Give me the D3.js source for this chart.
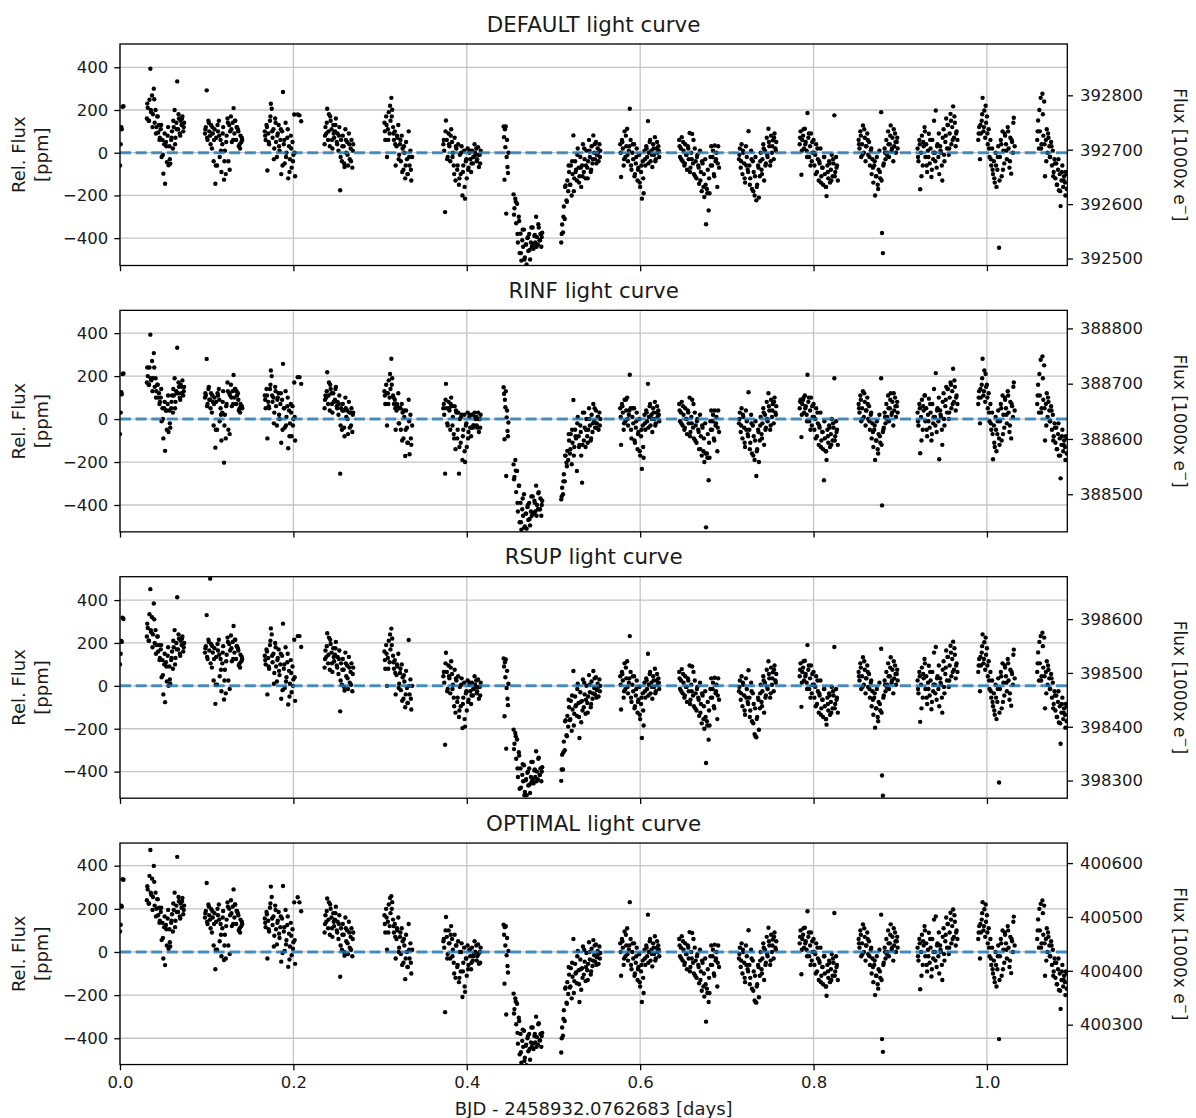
<!DOCTYPE html>
<html>
<head>
<meta charset="utf-8">
<script src="https://cdn.jsdelivr.net/npm/d3@7"></script>
<style>
  body { margin: 0; background: #fff; }
  svg { display: block; }
</style>
</head>
<body>
<script>
// ---- Light-curve data (time in days from BJD 2458932.0762683, flux in ppm) ----
// One entry per spacecraft visit (orbit); the four photometric apertures share the time stamps.
const visitTimes = [
  [0,.0008,.0015,.002,.003,.004],
  [.031,.032,.033,.034,.035,.036,.037,.038,.039,.040,.041,.042,.043,.044,.045,.046,.047,.048,.049,.050,.051,.052,.053,.054,.055,.056,.057,.058,.059,.060,.061,.062,.063,.064,.065,.066,.067,.068,.069,.070,.071,.072,.073,.074],
  [.098,.099,.100,.101,.102,.103,.104,.105,.106,.107,.108,.109,.110,.111,.112,.113,.114,.115,.116,.117,.118,.119,.120,.121,.122,.123,.124,.125,.126,.127,.128,.129,.130,.131,.132,.133,.134,.135,.136,.137,.138,.139,.140,.141],
  [.167,.168,.169,.170,.171,.172,.173,.174,.175,.176,.177,.178,.179,.180,.181,.182,.183,.184,.185,.186,.187,.188,.189,.190,.191,.192,.193,.194,.195,.196,.197,.198,.199,.200,.201,.202,.205,.207,.209],
  [.236,.237,.238,.239,.240,.241,.242,.243,.244,.245,.246,.247,.248,.249,.250,.251,.252,.253,.254,.255,.256,.257,.258,.259,.260,.261,.262,.263,.264,.265,.266,.267,.268,.269],
  [.305,.306,.307,.308,.309,.310,.311,.312,.313,.314,.315,.316,.317,.318,.319,.320,.321,.322,.323,.324,.325,.326,.327,.328,.329,.330,.331,.332,.333,.334,.335,.336,.337],
  [.373,.374,.375,.376,.377,.378,.379,.380,.381,.382,.383,.384,.385,.386,.387,.388,.389,.390,.391,.392,.393,.394,.395,.396,.397,.398,.399,.400,.401,.402,.403,.404,.405,.406,.407,.408,.409,.410,.411,.412,.413,.414,.415,.416],
  [.4425,.443,.4435,.444,.4445,.445,.4455,.446,.4465,.447,.4475,.448,.454,.455,.456,.457,.458,.459,.460,.461,.462,.463,.464,.465,.466,.467,.468,.469,.470,.471,.472,.473,.474,.475,.476,.477,.478,.479,.480,.481,.482,.483,.484,.485,.486,.487],
  [.509,.510,.511,.512,.513,.514,.515,.516,.517,.518,.519,.520,.521,.522,.523,.524,.525,.526,.527,.528,.529,.530,.531,.532,.533,.534,.535,.536,.537,.538,.539,.540,.541,.542,.543,.544,.545,.546,.547,.548,.549,.550,.551,.552,.553,.554],
  [.577,.578,.579,.580,.581,.582,.583,.584,.585,.586,.587,.588,.589,.590,.591,.592,.593,.594,.595,.596,.597,.598,.599,.600,.601,.602,.603,.604,.605,.606,.607,.608,.609,.610,.611,.612,.613,.614,.615,.616,.617,.618,.619,.620,.621,.622],
  [.645,.646,.647,.648,.649,.650,.651,.652,.653,.654,.655,.656,.657,.658,.659,.660,.661,.662,.663,.664,.665,.666,.667,.668,.669,.670,.671,.672,.673,.674,.675,.676,.677,.678,.679,.680,.681,.682,.683,.684,.685,.686,.687,.688,.689,.690,.691],
  [.714,.715,.716,.717,.718,.719,.720,.721,.722,.723,.724,.725,.726,.727,.728,.729,.730,.731,.732,.733,.734,.735,.736,.737,.738,.739,.740,.741,.742,.743,.744,.745,.746,.747,.748,.749,.750,.751,.752,.753,.754,.755,.756,.757],
  [.784,.785,.786,.787,.788,.789,.790,.791,.792,.793,.794,.795,.796,.797,.798,.799,.800,.801,.802,.803,.804,.805,.806,.807,.808,.809,.810,.811,.812,.813,.814,.815,.816,.817,.818,.819,.820,.821,.822,.823,.824,.825,.826,.827,.828],
  [.852,.853,.854,.855,.856,.857,.858,.859,.860,.861,.862,.863,.864,.865,.866,.867,.868,.869,.870,.871,.872,.873,.874,.875,.876,.877,.878,.879,.880,.881,.882,.883,.884,.885,.886,.887,.888,.889,.890,.891,.892,.893,.894,.895,.896,.897],
  [.920,.921,.922,.923,.924,.925,.926,.927,.928,.929,.930,.931,.932,.933,.934,.935,.936,.937,.938,.939,.940,.941,.942,.943,.944,.945,.946,.947,.948,.949,.950,.951,.952,.953,.954,.955,.956,.957,.958,.959,.960,.961,.962,.963,.964,.965,.966],
  [.990,.991,.992,.993,.994,.995,.996,.997,.998,.999,1.000,1.001,1.002,1.003,1.004,1.005,1.006,1.007,1.008,1.009,1.010,1.011,1.012,1.013,1.014,1.015,1.016,1.017,1.018,1.019,1.020,1.021,1.022,1.023,1.024,1.025,1.026,1.027,1.028,1.029,1.030,1.031,1.032],
  [1.058,1.059,1.060,1.061,1.062,1.063,1.064,1.065,1.066,1.067,1.068,1.069,1.070,1.071,1.072,1.073,1.074,1.075,1.076,1.077,1.078,1.079,1.080,1.081,1.082,1.083,1.084,1.085,1.086,1.087,1.088,1.089,1.090,1.091,1.092]
];

// Interleaved exposures falling between the main cadence stamps.
const visitTimesB = [
  [],
  [.0315,.0335,.0355,.0375,.0395,.0415,.0435,.0455,.0475,.0495,.0515,.0535,.0555,.0575,.0595,.0615,.0635,.0655,.0675,.0695,.0715,.0735],
  [.0985,.1005,.1025,.1045,.1065,.1085,.1105,.1125,.1145,.1165,.1185,.1205,.1225,.1245,.1265,.1285,.1305,.1325,.1345,.1365,.1385,.1405],
  [.1675,.1695,.1715,.1735,.1755,.1775,.1795,.1815,.1835,.1855,.1875,.1895,.1915,.1935,.1955,.1975,.1995,.2015],
  [.2365,.2385,.2405,.2425,.2445,.2465,.2485,.2505,.2525,.2545,.2565,.2585,.2605,.2625,.2645,.2665,.2685],
  [.3055,.3075,.3095,.3115,.3135,.3155,.3175,.3195,.3215,.3235,.3255,.3275,.3295,.3315,.3335,.3355],
  [.3735,.3755,.3775,.3795,.3815,.3835,.3855,.3875,.3895,.3915,.3935,.3955,.3975,.3995,.4015,.4035,.4055,.4075,.4095,.4115,.4135,.4155],
  [.4545,.4565,.4585,.4605,.4625,.4645,.4665,.4685,.4705,.4725,.4745,.4765,.4785,.4805,.4825,.4845,.4865],
  [.5095,.5115,.5135,.5155,.5175,.5195,.5215,.5235,.5255,.5275,.5295,.5315,.5335,.5355,.5375,.5395,.5415,.5435,.5455,.5475,.5495,.5515,.5535],
  [.5775,.5795,.5815,.5835,.5855,.5875,.5895,.5915,.5935,.5955,.5975,.5995,.6015,.6035,.6055,.6075,.6095,.6115,.6135,.6155,.6175,.6195,.6215],
  [.6455,.6475,.6495,.6515,.6535,.6555,.6575,.6595,.6615,.6635,.6655,.6675,.6695,.6715,.6735,.6755,.6775,.6795,.6815,.6835,.6855,.6875,.6895],
  [.7145,.7165,.7185,.7205,.7225,.7245,.7265,.7285,.7305,.7325,.7345,.7365,.7385,.7405,.7425,.7445,.7465,.7485,.7505,.7525,.7545,.7565],
  [.7845,.7865,.7885,.7905,.7925,.7945,.7965,.7985,.8005,.8025,.8045,.8065,.8085,.8105,.8125,.8145,.8165,.8185,.8205,.8225,.8245,.8265],
  [.8525,.8545,.8565,.8585,.8605,.8625,.8645,.8665,.8685,.8705,.8725,.8745,.8765,.8785,.8805,.8825,.8845,.8865,.8885,.8905,.8925,.8945,.8965],
  [.9205,.9225,.9245,.9265,.9285,.9305,.9325,.9345,.9365,.9385,.9405,.9425,.9445,.9465,.9485,.9505,.9525,.9545,.9565,.9585,.9605,.9625,.9645],
  [.9905,.9925,.9945,.9965,.9985,1.0005,1.0025,1.0045,1.0065,1.0085,1.0105,1.0125,1.0145,1.0165,1.0185,1.0205,1.0225,1.0245,1.0265,1.0285,1.0305],
  [1.0585,1.0605,1.0625,1.0645,1.0665,1.0685,1.0705,1.0725,1.0745,1.0765,1.0785,1.0805,1.0825,1.0845,1.0865,1.0885,1.0905,1.0925]
];

const fluxDefault = [
  [-60,40,120,110,215,218],
  [160,210,150,248,393,190,268,180,300,140,200,120,170,95,130,70,110,-20,60,-98,40,-145,50,-44,80,-59,30,-51,60,100,20,120,200,70,140,334,110,160,90,150,130,170,100,140],
  [90,120,292,60,150,100,80,130,20,90,-40,110,-145,70,-60,100,150,-20,60,-90,40,120,-126,10,-100,80,160,-40,130,100,170,50,140,209,90,150,60,120,110,30,40,80,50,60],
  [100,60,130,-83,90,40,150,229,206,70,110,20,160,50,-20,90,130,10,60,-100,100,284,40,-50,140,0,70,-120,30,-30,80,-70,50,-10,179,-110,179,175,147],
  [40,120,90,206,60,180,30,150,110,20,130,70,100,160,50,90,10,120,-176,60,-40,80,30,-67,110,0,50,-60,90,-30,20,60,-70,40],
  [140,60,170,-20,110,190,90,150,257,201,120,60,100,-60,30,70,130,-10,40,-40,80,20,-80,0,-120,50,-30,-100,100,-60,10,-130,-20],
  [40,10,-278,151,60,-20,90,30,-40,110,50,0,-60,70,-130,20,-80,40,-150,-10,-100,30,-200,-60,10,-215,-40,-120,20,-70,0,-30,-90,10,-50,-20,40,-10,20,-30,26,-67,-10,10],
  [123,73,-126,110,26,123,-285,-20,60,-67,-95,0,-195,-260,-215,-330,-239,-420,-300,-470,-379,-505,-410,-440,-360,-490,-430,-523,-400,-460,-380,-500,-420,-440,-350,-450,-390,-420,-300,-395,-430,-350,-410,-380,-440,-375],
  [-420,-336,-373,-252,-310,-153,-223,-130,-180,-90,-150,-60,-200,-100,81,-120,-40,-80,-130,20,-70,-110,-20,-160,-60,40,-90,-30,-120,10,-70,-40,60,-20,-90,30,-50,81,0,-30,50,-10,20,-40,40,10],
  [40,-114,60,20,-60,100,-20,30,112,-40,10,206,60,-80,0,-30,40,-100,-50,20,-130,-70,-10,-160,-90,-215,-40,-190,10,-60,30,-20,148,0,50,-40,10,-67,40,-10,73,-30,20,0,30,-20],
  [60,-20,20,73,-40,10,-60,40,-10,-80,30,-30,92,-70,0,88,-50,-100,20,-40,-120,-10,-60,-145,10,-90,-180,-50,-160,-207,-30,-335,-170,-80,-270,-190,-20,30,-60,10,-100,34,-40,0,-160,30,-70],
  [-30,20,-70,40,-100,0,-50,-140,30,-20,-80,101,-60,-120,10,-170,-40,-90,-200,-20,-223,-150,-60,-210,-110,0,-80,-30,40,-130,10,-50,70,-20,112,30,-60,80,0,58,-30,90,20,50],
  [40,100,-103,60,80,20,112,50,10,186,70,-20,30,90,-40,0,60,-60,-10,40,-90,-30,-130,-50,20,-110,-70,-150,-20,-100,-160,-203,-60,-120,-40,-140,-80,-10,-110,-50,175,-90,-20,-60,-130],
  [60,20,100,-20,40,128,0,70,-40,30,90,-10,50,-60,10,-100,-30,-140,-60,-200,-110,-20,-150,-80,10,-120,190,-376,-470,-50,20,-30,60,0,100,-20,40,128,10,70,-40,30,90,0,50,20],
  [20,-40,60,-171,0,80,-60,30,120,-20,40,-90,10,89,-50,20,-114,60,-30,150,0,198,-70,40,-20,-100,30,0,-60,70,110,-40,50,160,20,130,-10,90,182,40,120,217,70,140,30,100,60],
  [60,120,-30,90,150,257,100,198,70,140,170,40,110,-20,60,-60,20,-100,-40,-140,0,-160,-80,30,-445,-20,60,-110,100,10,-50,80,40,-30,120,20,-70,70,-98,50,0,164,30],
  [60,151,20,100,257,40,276,80,240,-110,60,110,0,70,30,-20,50,-60,10,-90,-30,-120,-50,-150,-80,-176,-100,-250,-130,-60,-160,-110,-140,-90,-170]
];
const fluxDefaultB = [
  [],
  [230,150,200,120,250,90,170,60,130,-10,90,30,120,-30,70,150,40,110,180,80,160,120],
  [110,70,140,40,120,60,-60,130,80,10,90,-40,50,140,-80,110,60,150,120,100,20,70],
  [80,120,50,170,100,-30,140,80,30,110,-60,60,-20,110,-90,20,-40,0],
  [80,140,100,170,60,90,130,40,80,-20,30,-50,60,-10,40,-40,10],
  [100,130,60,220,170,90,40,80,-30,60,-90,30,-60,-100,-20,-80],
  [60,100,-30,40,80,-20,-100,30,-60,-120,0,-90,-160,-30,-80,10,-50,-20,0,-40,-10,-50],
  [-290,-230,-380,-320,-470,-360,-500,-430,-395,-455,-350,-430,-385,-440,-335,-410,-395],
  [-380,-300,-160,-230,-60,-150,-40,-180,-90,-10,-140,-70,-110,20,-60,-120,10,-80,-30,40,-50,0,-20],
  [0,50,-30,80,-10,30,-60,40,-110,-20,-80,-140,-60,-120,-30,20,-50,60,-10,20,-40,50,10],
  [30,-30,50,-50,-10,20,-90,-30,60,-110,-20,-70,-130,-40,-100,-150,-190,-120,-60,-20,-110,-30,-50],
  [-10,-40,10,-120,-60,-90,-150,-30,-180,-110,-160,-70,-40,-100,20,-60,-10,50,-40,30,70,10],
  [70,10,110,40,-20,90,-60,50,0,-100,20,-40,-140,-70,-20,-160,-90,-50,-130,-30,-110,-70],
  [40,80,-10,110,30,60,-20,20,-70,-40,-110,-170,-90,-130,-60,0,-10,40,80,20,110,50,70],
  [-20,40,-110,50,100,-60,-20,60,-80,0,-40,30,90,10,-130,-10,80,130,20,150,60,170,90],
  [90,130,180,120,220,90,20,-30,-80,-120,-60,-20,-130,40,-80,90,10,100,-40,60,140],
  [100,200,20,180,40,-40,90,-20,30,-110,-50,-150,-30,-180,-90,-130,-200,-100]
];

const fluxRinf = [
  [-70,30,125,115,210,212],
  [170,200,160,240,393,180,270,190,307,150,190,130,160,100,120,80,100,-10,50,-90,50,-148,40,-50,70,-60,40,-40,50,110,30,110,190,80,130,332,120,150,100,160,120,180,110,150],
  [100,110,280,70,140,90,90,120,30,80,-30,100,-133,80,-50,110,140,-10,50,-100,30,130,-203,20,-90,70,170,-50,120,110,160,60,130,205,100,140,70,110,120,40,50,70,60,50],
  [110,50,140,-90,80,50,140,226,200,80,100,30,150,60,-30,100,120,0,70,-110,90,257,50,-40,130,10,60,-136,40,-20,70,-80,60,0,170,-100,195,195,164],
  [50,110,100,218,70,170,40,140,120,30,120,80,90,150,60,80,20,110,-254,50,-50,70,40,-80,100,10,40,-70,80,-40,30,50,-60,30],
  [130,70,160,-30,120,180,100,140,281,190,110,70,90,-50,40,60,120,-20,50,-50,70,30,-90,10,-172,40,-40,-110,90,-164,20,-120,-30],
  [50,20,-254,164,50,-30,80,40,-50,100,60,10,-70,60,-140,30,-90,30,-254,0,-110,20,-190,-50,20,-200,-30,-130,30,-60,10,-40,-80,20,-40,-30,30,0,10,-40,30,-60,0,20],
  [148,117,-94,90,55,130,-265,8,40,-55,-80,-16,-211,-270,-190,-340,-242,-430,-310,-480,-390,-515,-420,-450,-350,-500,-440,-510,-410,-470,-390,-495,-430,-450,-360,-440,-380,-430,-310,-400,-420,-340,-420,-370,-450,-380],
  [-374,-320,-350,-257,-290,-170,-203,-148,-190,-100,-160,-70,-210,-110,89,-130,-50,-90,-242,10,-80,-120,-30,-170,-296,30,-100,-40,-130,0,-80,-50,50,-30,-100,20,-60,70,-10,-40,40,-20,10,-50,30,0],
  [50,-120,70,30,-50,90,-10,40,100,-30,20,206,50,-90,10,-20,50,-110,-40,30,-140,-60,0,-170,-80,-232,-30,-180,20,-50,40,-10,164,10,60,-30,20,-60,50,0,80,-20,30,10,40,-10],
  [70,-10,30,80,-30,20,-50,50,0,-70,40,-20,100,-60,10,90,-40,-90,30,-30,-110,0,-50,-140,20,-80,-170,-40,-150,-200,-20,-504,-160,-70,-285,-180,-10,40,-50,20,-90,40,-30,10,-150,40,-60],
  [-20,30,-60,50,-90,10,-40,-130,40,-10,-70,125,-50,-110,20,-160,-30,-80,-190,-10,-265,-140,-50,-200,-100,10,-70,-20,50,-120,20,-40,80,-10,120,40,-50,90,10,70,-20,100,30,60],
  [50,90,-84,70,90,30,110,60,20,206,80,-10,40,100,-30,10,70,-50,0,50,-80,-20,-120,-40,30,-100,-60,-140,-285,-90,-150,-190,-50,-110,-30,-130,-70,0,-100,-40,190,-80,-10,-50,-120],
  [70,30,110,-10,50,130,10,80,-30,40,100,0,60,-50,20,-90,-20,-130,-50,-190,-100,-10,-140,-70,20,-110,190,-402,-60,-40,30,-20,70,10,110,-10,50,120,20,80,-30,40,100,10,60,30],
  [30,-30,70,-159,10,90,-50,40,110,-10,50,-80,20,95,-40,30,-100,70,-20,140,10,214,-60,50,-10,-187,40,10,-50,80,120,-30,60,150,30,140,0,100,170,50,130,234,80,150,40,110,70],
  [70,130,-20,100,160,281,110,226,80,150,160,50,120,-10,70,-50,30,-187,-30,-130,10,-150,-70,40,-90,-10,70,-100,110,20,-40,90,50,-20,130,30,-60,80,-90,60,10,170,40],
  [70,160,30,110,276,50,292,90,250,-100,70,120,10,80,40,-10,60,-50,20,-80,-20,-110,-40,-140,-70,-170,-90,-276,-120,-50,-150,-100,-130,-80,-160]
];
const fluxRinfB = [
  [],
  [240,160,190,130,240,100,160,70,140,0,80,40,110,-20,80,140,50,120,170,90,150,130],
  [120,60,150,50,110,70,-50,120,90,20,80,-30,60,130,-70,100,70,140,130,90,30,60],
  [90,110,60,160,110,-20,130,90,20,120,-50,50,-30,100,-80,30,-30,10],
  [90,130,110,160,70,80,140,50,70,-30,40,-40,50,0,30,-30,20],
  [110,120,70,210,160,100,50,70,-20,50,-100,40,-50,-110,-10,-90],
  [70,90,-20,50,70,-30,-90,40,-50,-130,10,-80,-150,-20,-90,20,-40,-30,10,-30,0,-40],
  [-280,-240,-390,-310,-480,-370,-505,-440,-400,-465,-360,-440,-390,-450,-345,-420,-400],
  [-360,-290,-170,-220,-70,-140,-50,-170,-80,-20,-130,-60,-120,30,-50,-110,0,-90,-20,50,-40,10,-30],
  [10,60,-20,90,0,40,-50,50,-100,-10,-70,-150,-50,-130,-20,30,-40,70,0,30,-30,60,20],
  [40,-20,60,-40,0,30,-80,-20,70,-100,-10,-60,-140,-30,-90,-160,-180,-110,-50,-10,-100,-20,-40],
  [0,-30,20,-110,-50,-80,-140,-20,-170,-100,-150,-60,-30,-90,30,-50,0,60,-30,40,80,20],
  [80,20,100,50,-10,100,-50,60,10,-90,30,-30,-130,-60,-10,-150,-80,-40,-120,-20,-100,-60],
  [50,90,0,120,40,70,-10,30,-60,-30,-100,-160,-80,-120,-50,10,0,50,90,30,120,60,80],
  [-10,50,-100,60,110,-50,-10,70,-70,10,-30,40,100,20,-120,0,90,140,30,160,70,180,100],
  [100,140,190,130,210,100,30,-20,-70,-110,-50,-10,-120,50,-70,100,20,110,-30,70,150],
  [110,210,30,190,50,-30,100,-10,40,-100,-40,-140,-20,-170,-80,-120,-190,-90]
];

const fluxRsup = [
  [100,150,209,205,318,312],
  [230,270,210,334,451,250,320,240,384,200,260,190,230,160,190,130,170,40,120,-40,100,-76,110,20,140,0,90,10,120,160,80,180,260,130,200,413,170,220,150,210,190,230,160,200],
  [155,185,330,125,215,165,500,195,85,155,25,175,-84,135,5,165,215,45,125,-25,105,185,-64,75,-35,145,225,25,195,165,235,115,205,279,155,215,125,185,175,95,105,145,115,125],
  [140,100,170,-40,130,80,190,268,240,110,150,60,200,90,20,130,170,50,100,-60,140,290,80,-10,180,40,110,-87,70,10,120,-30,90,30,215,-70,232,232,181],
  [85,165,135,245,105,225,75,195,155,65,175,115,145,205,95,135,55,165,-119,105,5,125,75,-22,155,45,95,-15,135,15,65,105,-25,85],
  [160,80,190,0,130,210,110,170,267,221,140,80,120,-40,50,90,150,10,60,-20,100,40,-60,20,-100,70,-10,-80,214,-40,30,-110,0],
  [45,15,-275,154,65,-15,95,35,-35,115,55,5,-55,75,-125,25,-75,45,-145,-5,-95,35,-197,-55,15,-190,-35,-115,25,-65,5,-25,-85,15,-45,-15,45,-5,25,-25,30,-60,-5,15],
  [128,90,-142,110,40,123,-293,-10,70,-60,-90,10,-204,-270,-220,-340,-250,-425,-310,-480,-385,-535,-415,-445,-370,-495,-440,-510,-405,-465,-385,-500,-425,-445,-355,-455,-395,-425,-305,-400,-435,-335,-415,-385,-445,-380],
  [-443,-321,-390,-260,-300,-160,-230,-140,-190,-100,-160,-70,-210,-110,69,-130,-50,-90,-140,10,-80,-243,-30,-170,-70,30,-100,-40,-130,0,-80,-50,50,-30,-100,20,-60,69,-10,-40,40,-20,10,-50,30,0],
  [45,-110,65,25,-55,105,-15,35,115,-35,15,232,65,-75,5,-25,45,-95,-45,25,-125,-65,-5,-155,-85,-243,-35,-185,15,-55,35,-15,150,5,55,-35,15,-60,45,-5,80,-25,25,5,35,-15],
  [65,-15,25,78,-35,15,-55,45,-5,-75,35,-25,95,-65,5,90,-45,-95,25,-35,-115,-5,-55,-140,15,-85,-175,-45,-155,-200,-25,-360,-165,-75,-251,-185,-15,35,-55,15,-95,38,-35,5,-155,35,-65],
  [-25,25,-65,45,-95,5,-45,-135,35,-15,-75,73,-55,-115,15,-165,-35,-85,-225,-235,-240,-145,-55,-205,-105,5,-75,-25,45,-125,15,-45,75,-15,115,35,-55,85,5,63,-25,95,25,55],
  [45,105,-98,65,85,25,117,55,15,190,75,-15,35,95,-35,5,65,-55,-5,45,-85,-25,-125,-45,25,-105,-65,-145,-15,-95,-155,-181,-55,-115,-35,-135,-75,-5,-105,-45,181,-85,-15,-55,-125],
  [65,25,105,-15,45,133,5,75,-35,35,95,-5,55,-55,15,-95,-25,-135,-55,-195,-105,-15,-145,-75,15,-115,173,-418,-512,-45,25,-25,65,5,105,-15,45,133,15,75,-35,35,95,5,55,25],
  [25,-35,65,-168,5,85,-55,35,125,-15,45,-85,15,94,-45,25,-109,65,-25,155,5,181,-65,45,-15,-95,35,5,-55,75,115,-35,55,165,25,135,-5,95,187,45,125,206,75,145,35,105,65],
  [65,125,-25,95,155,240,105,203,75,145,175,45,115,-15,65,-55,25,-95,-35,-135,5,-155,-75,35,-451,-15,65,-105,105,15,-45,85,45,-25,125,25,-65,75,-93,55,5,169,35],
  [65,156,25,105,232,45,248,85,225,-105,65,115,5,75,35,-15,55,-55,15,-85,-25,-115,-45,-145,-75,-171,-95,-270,-125,-55,-155,-105,-135,-85,-165]
];
const fluxRsupB = [
  [],
  [290,210,260,180,310,150,230,120,190,50,150,90,180,30,130,210,100,170,240,140,220,180],
  [175,135,205,105,185,125,5,195,145,75,155,25,115,205,-15,175,125,215,185,165,85,135],
  [120,160,90,210,140,10,180,120,70,150,-20,100,20,150,-50,60,0,40],
  [125,185,145,215,105,135,175,85,125,25,75,-5,105,35,85,5,55],
  [120,150,80,240,190,110,60,100,-10,80,-70,50,-40,-80,0,-60],
  [65,105,-25,45,85,-15,-95,35,-55,-115,5,-85,-155,-25,-75,15,-45,-15,5,-35,-5,-45],
  [-295,-235,-385,-325,-475,-365,-510,-435,-400,-460,-355,-435,-390,-445,-340,-415,-400],
  [-390,-310,-165,-235,-65,-155,-45,-185,-95,-15,-145,-75,-115,15,-65,-125,5,-85,-35,35,-55,-5,-25],
  [5,55,-25,85,-5,35,-55,45,-105,-15,-75,-135,-55,-115,-25,25,-45,65,-5,25,-35,55,15],
  [35,-25,55,-45,-5,25,-85,-25,65,-105,-15,-65,-125,-35,-95,-145,-185,-115,-55,-15,-105,-25,-45],
  [-5,-35,15,-115,-55,-85,-145,-25,-175,-105,-155,-65,-35,-95,25,-55,-5,55,-35,35,75,15],
  [75,15,115,45,-15,95,-55,55,5,-95,25,-35,-135,-65,-15,-155,-85,-45,-125,-25,-105,-65],
  [45,85,-5,115,35,65,-15,25,-65,-35,-105,-165,-85,-125,-55,5,-5,45,85,25,115,55,75],
  [-15,45,-105,55,105,-55,-15,65,-75,5,-35,35,95,15,-125,-5,85,135,25,155,65,175,95],
  [95,135,185,125,225,95,25,-25,-75,-115,-55,-15,-125,45,-75,95,15,105,-35,65,145],
  [105,205,25,185,45,-35,95,-15,35,-105,-45,-145,-25,-175,-85,-125,-195,-95]
];

const fluxOptimal = [
  [95,126,215,210,337,335],
  [240,290,225,353,473,265,340,255,399,215,275,200,245,170,205,145,185,55,135,-30,115,-61,125,30,155,15,105,25,135,175,95,195,275,145,215,441,185,235,165,225,205,250,175,215],
  [160,190,320,130,220,170,150,200,90,160,30,180,-80,140,10,170,220,50,130,-20,110,190,-37,80,-30,150,230,30,200,170,240,120,210,290,160,220,130,190,180,100,110,150,120,130],
  [155,115,185,-30,145,95,205,303,255,125,165,75,215,105,35,145,185,65,115,-45,155,306,95,5,195,55,125,-69,85,25,135,-15,105,45,230,-55,254,230,189],
  [90,170,140,248,110,230,80,200,160,70,180,120,150,210,100,140,60,170,-115,110,10,130,80,-17,160,50,100,-10,140,20,70,110,-20,90],
  [170,90,200,10,140,220,120,180,259,231,150,90,130,-30,60,100,160,20,70,-10,110,50,-50,30,-126,80,0,-70,130,-30,40,-100,10],
  [50,20,-279,162,70,-10,100,40,-30,120,60,10,-50,80,-120,30,-70,50,-140,0,-90,40,-209,-50,20,-185,-30,-110,30,-60,10,-20,-80,20,-40,-10,50,0,30,-20,35,-55,0,20],
  [126,80,-147,115,30,120,-290,-15,65,-65,-95,5,-193,-265,-215,-335,-240,-425,-305,-475,-380,-513,-412,-440,-365,-490,-435,-525,-400,-460,-380,-500,-420,-440,-350,-450,-390,-420,-300,-395,-430,-330,-410,-380,-440,-375],
  [-466,-350,-388,-270,-320,-165,-235,-140,-195,-105,-165,-75,-215,-115,60,-135,-55,-95,-145,5,-85,-232,-35,-175,-75,25,-105,-45,-135,-5,-85,-55,45,-35,-105,15,-65,55,-15,-45,35,-25,5,-55,25,-5],
  [40,-110,60,20,-60,95,-20,30,110,-40,10,231,60,-80,0,-30,40,-100,-50,20,-130,-70,-10,-160,-90,-232,-40,-190,10,-60,30,-20,173,0,50,-40,10,-67,40,-10,73,-30,20,0,30,-20],
  [60,-20,20,73,-40,10,-60,40,-10,-80,30,-30,92,-70,0,88,-50,-100,20,-40,-120,-10,-60,-145,10,-90,-180,-50,-160,-207,-30,-323,-170,-80,-232,-190,-20,30,-60,10,-100,34,-40,0,-160,30,-70],
  [-30,20,-70,40,-100,0,-50,-140,30,-20,-80,101,-60,-120,10,-170,-40,-90,-225,-232,-235,-150,-60,-210,-110,0,-80,-30,40,-130,10,-50,70,-20,112,30,-60,80,0,58,-30,90,20,50],
  [40,100,-103,60,80,20,112,50,10,189,70,-20,30,90,-40,0,60,-60,-10,40,-90,-30,-130,-50,20,-110,-70,-150,-20,-100,-160,-203,-60,-120,-40,-140,-80,-10,-110,-50,181,-90,-20,-60,-130],
  [60,20,100,-20,40,128,0,70,-40,30,90,-10,50,-60,10,-100,-30,-140,-60,-200,-110,-20,-150,-80,10,-120,173,-404,-463,-50,20,-30,60,0,100,-20,40,128,10,70,-40,30,90,0,50,20],
  [20,-40,60,-173,0,80,-60,30,120,-20,40,-90,10,89,-50,20,-114,60,-30,150,0,165,-70,40,-20,-100,30,0,-60,70,110,-40,50,160,20,130,-10,90,182,40,120,197,70,140,30,100,60],
  [60,120,-30,90,150,231,100,198,70,140,170,40,110,-20,60,-60,20,-100,-40,-140,0,-160,-80,30,-404,-20,60,-110,100,10,-50,80,40,-30,120,20,-70,70,-98,50,0,164,30],
  [60,151,20,100,223,40,239,80,215,-110,60,110,0,70,30,-20,50,-60,10,-90,-30,-120,-50,-150,-80,-176,-100,-264,-130,-60,-160,-110,-140,-90,-170]
];
const fluxOptimalB = [
  [],
  [305,225,275,195,325,165,245,135,205,65,165,105,195,45,145,225,115,185,255,155,235,195],
  [180,140,210,110,190,130,10,200,150,80,160,30,120,210,-10,180,130,220,190,170,90,140],
  [135,175,105,225,155,25,195,135,85,165,-5,115,35,165,-35,75,15,55],
  [130,190,150,220,110,140,180,90,130,30,80,0,110,40,90,10,60],
  [130,160,90,250,200,120,70,110,0,90,-60,60,-30,-70,10,-50],
  [60,100,-30,40,80,-20,-100,30,-60,-120,0,-90,-160,-30,-80,10,-50,-20,0,-40,-10,-50],
  [-285,-230,-375,-320,-465,-360,-505,-430,-390,-450,-350,-425,-380,-440,-335,-410,-390],
  [-400,-310,-170,-240,-70,-160,-50,-190,-100,-20,-150,-80,-120,10,-70,-130,0,-90,-40,30,-60,-10,-30],
  [0,50,-30,80,-10,30,-60,40,-110,-20,-80,-140,-60,-120,-30,20,-50,60,-10,20,-40,50,10],
  [30,-30,50,-50,-10,20,-90,-30,60,-110,-20,-70,-130,-40,-100,-150,-190,-120,-60,-20,-110,-30,-50],
  [-10,-40,10,-120,-60,-90,-150,-30,-180,-110,-160,-70,-40,-100,20,-60,-10,50,-40,30,70,10],
  [70,10,110,40,-20,90,-60,50,0,-100,20,-40,-140,-70,-20,-160,-90,-50,-130,-30,-110,-70],
  [40,80,-10,110,30,60,-20,20,-70,-40,-110,-170,-90,-130,-60,0,-10,40,80,20,110,50,70],
  [-20,40,-110,50,100,-60,-20,60,-80,0,-40,30,90,10,-130,-10,80,130,20,150,60,170,90],
  [90,130,180,120,220,90,20,-30,-80,-120,-60,-20,-130,40,-80,90,10,100,-40,60,140],
  [100,200,20,180,40,-40,90,-20,30,-110,-50,-150,-30,-180,-90,-130,-200,-100]
];

const panelTitles = ["DEFAULT light curve", "RINF light curve", "RSUP light curve", "OPTIMAL light curve"];
const medianFlux = [392694.5, 388636, 398476, 400435];       // 1000 e-, reference level of each aperture
const ppmTicks = [-400, -200, 0, 200, 400];
const fluxTicks = [
  [392500, 392600, 392700, 392800],
  [388500, 388600, 388700, 388800],
  [398300, 398400, 398500, 398600],
  [400300, 400400, 400500, 400600]
];
const timeTicks = [0, 0.2, 0.4, 0.6, 0.8, 1.0];
const timeRange = [0, 1.0927];
const ppmRanges = [[-528, 509], [-525, 506], [-524, 509], [-522, 505]];
const xLabel = "BJD - 2458932.0762683 [days]";

// ---- Layout ----
const W = 1196, H = 1118;
const plotLeft = 120, plotRight = 1067.3;
const panelTop0 = 44, panelStep = 266.35, panelH = 221.5;
const font = "'DejaVu Sans', 'Liberation Sans', sans-serif";
const textColor = "#1a1a1a";
const gridColor = "#c4c4c4";

const fluxSets = [
  [fluxDefault, fluxDefaultB],
  [fluxRinf, fluxRinfB],
  [fluxRsup, fluxRsupB],
  [fluxOptimal, fluxOptimalB]
];
const minus = "\u2212";
const fmtPpm = d => (d < 0 ? minus + Math.abs(d) : String(d));

const svg = d3.select("body").append("svg")
  .attr("width", W).attr("height", H)
  .style("font-family", font);

svg.append("rect").attr("width", W).attr("height", H).attr("fill", "#fff");

const x = d3.scaleLinear().domain(timeRange).range([plotLeft, plotRight]);

function collect(times, flux, out) {
  times.forEach((ts, v) => {
    const fs = flux[v] || [];
    const n = Math.min(ts.length, fs.length);
    for (let j = 0; j < n; j++) out.push([ts[j], fs[j]]);
  });
  return out;
}

fluxSets.forEach(([flux, fluxB], p) => {
  const top = panelTop0 + p * panelStep;
  const bottom = top + panelH;
  const y = d3.scaleLinear().domain(ppmRanges[p]).range([bottom, top]);
  const fmed = medianFlux[p];
  const yR = d3.scaleLinear()
    .domain(ppmRanges[p].map(v => fmed * (1 + v * 1e-6)))
    .range([bottom, top]);

  const g = svg.append("g");

  const clipId = "clip" + p;
  svg.append("clipPath").attr("id", clipId)
    .append("rect").attr("x", plotLeft).attr("y", top)
    .attr("width", plotRight - plotLeft).attr("height", panelH);

  // grid
  const grid = g.append("g");
  grid.selectAll("line.gx").data(timeTicks).join("line")
    .attr("x1", d => x(d)).attr("x2", d => x(d))
    .attr("y1", top).attr("y2", bottom)
    .attr("stroke", gridColor).attr("stroke-width", 1.3);
  grid.selectAll("line.gy").data(ppmTicks).join("line")
    .attr("x1", plotLeft).attr("x2", plotRight)
    .attr("y1", d => y(d)).attr("y2", d => y(d))
    .attr("stroke", gridColor).attr("stroke-width", 1.3);

  // data points
  const pts = collect(visitTimesB, fluxB, collect(visitTimes, flux, []));
  g.append("g").attr("clip-path", `url(#${clipId})`)
    .selectAll("circle").data(pts).join("circle")
    .attr("cx", d => x(d[0])).attr("cy", d => y(d[1]))
    .attr("r", 2.2).attr("fill", "#000");

  // zero reference line
  g.append("line").attr("clip-path", `url(#${clipId})`)
    .attr("x1", plotLeft).attr("x2", plotRight)
    .attr("y1", y(0)).attr("y2", y(0))
    .attr("stroke", "#1f77b4").attr("stroke-opacity", 0.8)
    .attr("stroke-width", 3).attr("stroke-dasharray", "11,4.6");

  // frame
  g.append("rect").attr("x", plotLeft).attr("y", top)
    .attr("width", plotRight - plotLeft).attr("height", panelH)
    .attr("fill", "none").attr("stroke", "#000").attr("stroke-width", 1.3);

  // axes
  const styleAxis = sel => {
    sel.select(".domain").remove();
    sel.selectAll(".tick line").attr("stroke", "#000").attr("stroke-width", 1.3);
    sel.selectAll(".tick text").attr("fill", textColor)
      .attr("font-size", 16.5).attr("font-family", font);
  };

  g.append("g").attr("transform", `translate(${plotLeft},0)`)
    .call(d3.axisLeft(y).tickValues(ppmTicks).tickSize(5.7).tickPadding(6).tickFormat(fmtPpm))
    .call(styleAxis);

  g.append("g").attr("transform", `translate(${plotRight},0)`)
    .call(d3.axisRight(yR).tickValues(fluxTicks[p]).tickSize(5.7).tickPadding(7).tickFormat(d3.format("d")))
    .call(styleAxis);

  g.append("g").attr("transform", `translate(0,${bottom})`)
    .call(d3.axisBottom(x).tickValues(timeTicks).tickSize(5.7).tickPadding(6)
      .tickFormat(p === 3 ? d3.format(".1f") : () => ""))
    .call(styleAxis);

  // title
  const cx = (plotLeft + plotRight) / 2;
  g.append("text").attr("x", cx).attr("y", top - 12.5)
    .attr("text-anchor", "middle").attr("font-size", 21.4)
    .attr("fill", textColor).text(panelTitles[p]);

  // left axis label (two lines)
  const cy = (top + bottom) / 2;
  [["Rel. Flux", 18.5], ["[ppm]", 41.5]].forEach(([txt, lx]) => {
    g.append("text")
      .attr("transform", `translate(${lx},${cy}) rotate(-90)`)
      .attr("text-anchor", "middle").attr("dominant-baseline", "central")
      .attr("font-size", 18).attr("fill", textColor).text(txt);
  });

  // right axis label
  const rl = g.append("text")
    .attr("transform", `translate(1180,${cy}) rotate(90)`)
    .attr("text-anchor", "middle").attr("dominant-baseline", "central")
    .attr("font-size", 17).attr("fill", textColor);
  rl.append("tspan").text("Flux [1000x e");
  rl.append("tspan").attr("dy", -6).attr("font-size", 12).text(minus);
  rl.append("tspan").attr("dy", 6).text("]");
});

// x-axis label
svg.append("text")
  .attr("x", (plotLeft + plotRight) / 2).attr("y", 1108)
  .attr("text-anchor", "middle").attr("dominant-baseline", "central")
  .attr("font-size", 18).attr("fill", textColor).text(xLabel);
</script>
</body>
</html>
